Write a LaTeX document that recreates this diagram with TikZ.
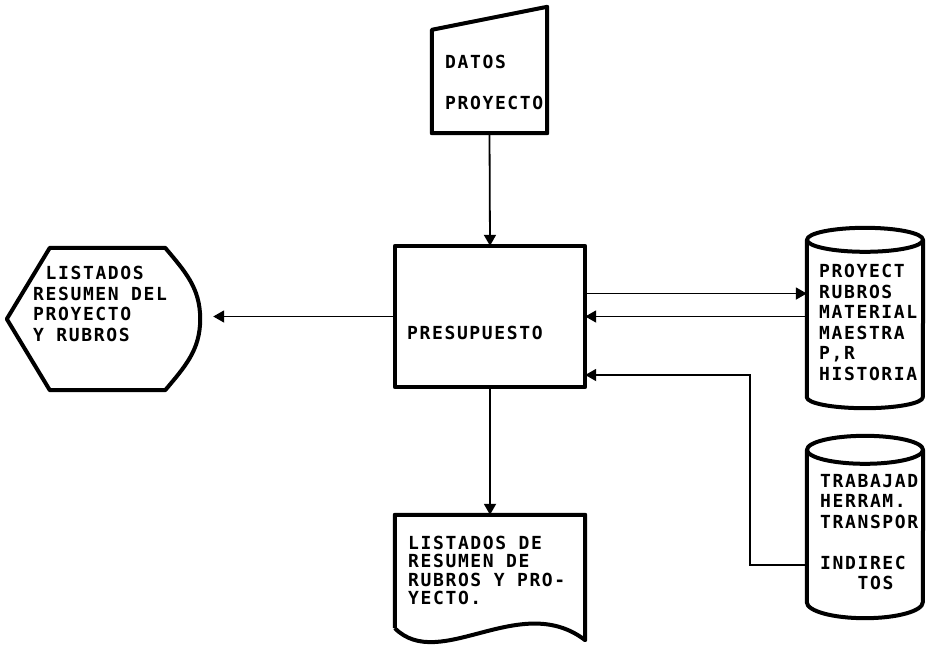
\documentclass[tikz,border=0pt]{standalone}
\usepackage{fontspec}
\newfontfamily\dotfont{DejaVu Sans Mono}[LetterSpace=9]
\usetikzlibrary{arrows.meta,calc}
\begin{document}
\begin{tikzpicture}[
    x=1pt, y=-1pt,
    shapebox/.style={rectangle, draw=none, inner sep=0},
    outline/.style={line width=4pt, line join=round},
    flow/.style={line width=1.8pt, -{Triangle[length=11pt,width=12pt]}},
    txt/.style={anchor=west, align=left, inner sep=0, font=\dotfont\bfseries\fontsize{18}{20.5}\selectfont},
    doctxt/.style={txt, font=\dotfont\bfseries\fontsize{18}{18.3}\selectfont}
  ]
  \useasboundingbox (0,0) rectangle (926,656);

  % shapes
  \node[shapebox, minimum width=115, minimum height=126] (datos) at (489.5,70) {};
  \node[shapebox, minimum width=190, minimum height=141] (proc) at (490,316.5) {};
  \node[shapebox, minimum width=193, minimum height=142] (display) at (103.5,319) {};
  \node[shapebox, minimum width=116, minimum height=157] (db1) at (865,318.5) {};
  \node[shapebox, minimum width=116, minimum height=152] (db2) at (865,526) {};
  \node[shapebox, minimum width=190, minimum height=113] (doc) at (490,571.5) {};

  \draw[outline] (datos.south west) -- ([yshift=-23pt]datos.north west) -- (datos.north east) -- (datos.south east) -- cycle;
  \draw[outline] (proc.south west) rectangle (proc.north east);
  \draw[outline] (display.west) -- ([xshift=43pt]display.north west) -- ([xshift=-35pt]display.north east)
    to[out=-50,in=90] (display.east) to[out=-90,in=50] ([xshift=-35pt]display.south east)
    -- ([xshift=43pt]display.south west) -- cycle;
  \draw[outline] (db1.north) ellipse [x radius=58pt, y radius=12pt];
  \draw[outline] (db1.north west) -- (db1.south west) arc[start angle=180, end angle=360, x radius=58pt, y radius=11pt] -- (db1.north east);
  \draw[outline] (db2.north) ellipse [x radius=58pt, y radius=14pt];
  \draw[outline] (db2.north west) -- (db2.south west) arc[start angle=180, end angle=360, x radius=58pt, y radius=16pt] -- (db2.north east);
  \draw[outline] (doc.south west) -- (doc.north west) -- (doc.north east) -- ([yshift=-12pt]doc.south east)
    .. controls +(-65,-50) and +(45,45) .. (doc.south west);

  % texts
  \node[txt] (datostxt) at (445,82.5) {DATOS\\[20.5pt]PROYECTO};
  \node[txt] (proctxt) at (407,333) {PRESUPUESTO};
  \node[txt] (displaytxt) at (33,304) {\hspace*{12.5pt}LISTADOS\\RESUMEN DEL\\PROYECTO\\Y RUBROS};
  \node[txt] (db1txt) at (819,322.5) {PROYECT\\RUBROS\\MATERIAL\\MAESTRA\\P,R\\HISTORIA};
  \node[txt] (db2txt) at (820,532) {TRABAJAD\\HERRAM.\\TRANSPOR\\[20.5pt]INDIREC\\\hspace*{37.5pt}TOS};
  \node[doctxt] (doctxt) at (408,570.5) {LISTADOS DE\\RESUMEN DE\\RUBROS Y PRO-\\YECTO.};

  % connectors
  \draw[flow] (datos.south) -- (proc.north);
  \draw[flow] (proc) -- (doc);
  \draw[flow, shorten >=13pt] (proc.west) -- (proc.west -| display.east);
  \draw[flow] ([yshift=23pt]proc.east) -- ([yshift=23pt]proc.east -| db1.west);
  \draw[flow] (proc.east -| db1.west) -- (proc.east);
  \coordinate (turn) at (750,375);
  \draw[flow] ([yshift=-39pt]db2.west) -| (turn) -- (turn -| proc.east);
\end{tikzpicture}
\end{document}
